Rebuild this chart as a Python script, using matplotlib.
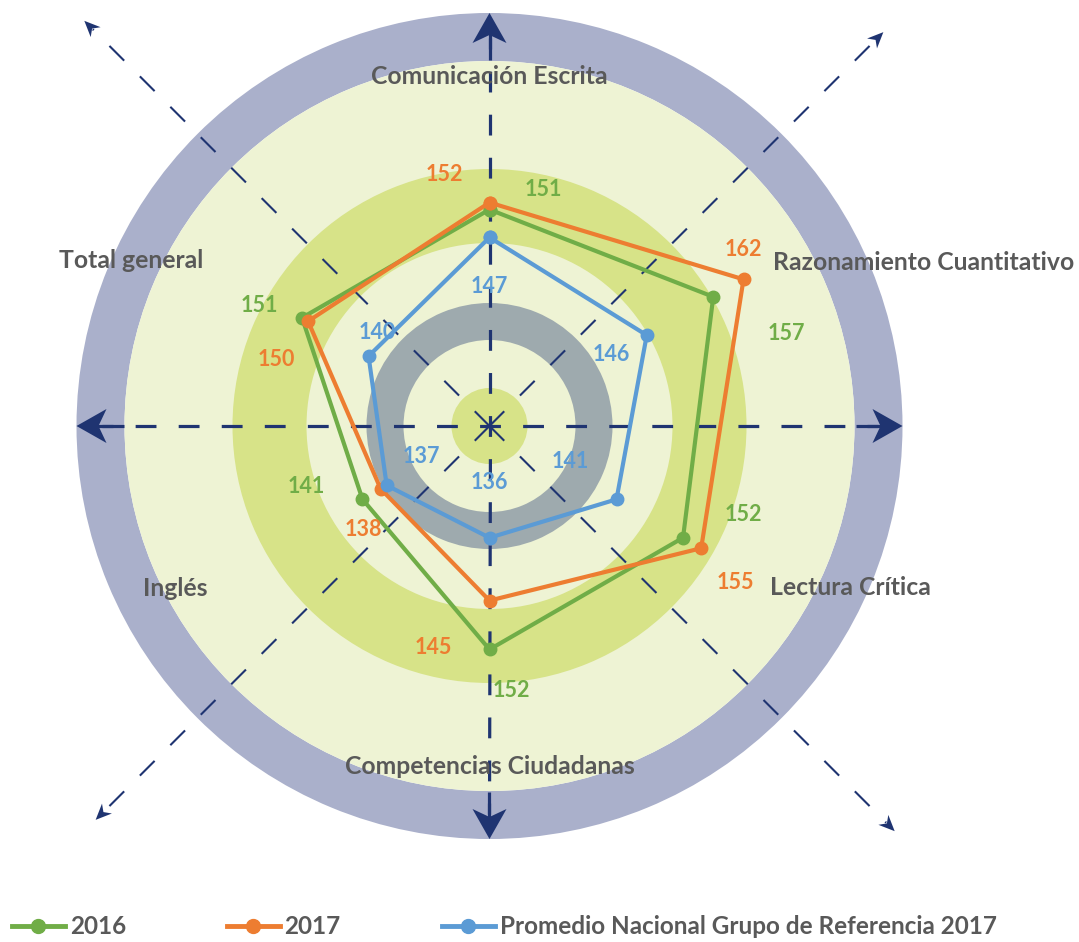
"""
Radar chart: Saber Pro results 2016 / 2017 vs national reference group.
"""
import numpy as np
import matplotlib
matplotlib.use("Agg")
import matplotlib.pyplot as plt
from matplotlib.patches import Circle, Wedge, Polygon
from matplotlib.lines import Line2D

plt.rcParams['font.family'] = ['Lato', 'DejaVu Sans']
plt.rcParams['lines.scale_dashes'] = False

# ---- data ----
categories = ['Comunicación Escrita', 'Razonamiento Cuantitativo', 'Lectura Crítica',
              'Competencias Ciudadanas', 'Inglés', 'Total general']
vals_2016 = [151, 157, 152, 152, 141, 151]
vals_2017 = [152, 162, 155, 145, 138, 150]
vals_ref = [147, 146, 141, 136, 137, 140]
series_names = ['2016', '2017', 'Promedio Nacional Grupo de Referencia 2017']

r_min, r_max = 120, 180

# ---- style ----
GREEN = '#70ad47'
ORANGE = '#ed7d31'
BLUE = '#5b9bd5'
NAVY = '#1f3471'
TXT = '#595959'

W, H = 1079, 942
cx, cy = 489.5, 426
R = 419  # pixel radius of the radar (r_max)

fig = plt.figure(figsize=(W / 100, H / 100), dpi=100)

# background decoration in pixel coordinates
bg = fig.add_axes([0, 0, 1, 1])
bg.set_xlim(0, W)
bg.set_ylim(H, 0)
bg.axis('off')

bg.add_patch(Wedge((cx, cy), 413, 0, 360, width=48, color='#aab0cb', lw=0))
bg.add_patch(Circle((cx, cy), 365, color='#eef3d4', lw=0))
bg.add_patch(Wedge((cx, cy), 257, 0, 360, width=74, color='#d7e388', lw=0))
bg.add_patch(Wedge((cx, cy), 123, 0, 360, width=37, color='#9eaaae', lw=0))
bg.add_patch(Circle((cx, cy), 38, color='#d7e388', lw=0))


def stealth_head(ax, tip, direction, length, half_w, notch):
    d = np.array(direction, float)
    d /= np.hypot(*d)
    n = np.array([-d[1], d[0]])
    t = np.array(tip, float)
    pts = [t, t - length * d + half_w * n, t - notch * d, t - length * d - half_w * n]
    ax.add_patch(Polygon(pts, closed=True, color=NAVY, lw=0, zorder=3))


# main cross axes
for ang in [0, 90, 180, 270]:
    d = np.array([np.cos(np.radians(ang)), -np.sin(np.radians(ang))])
    end = np.array([cx, cy]) + 388 * d
    bg.plot([cx, end[0]], [cy, end[1]], color=NAVY, lw=2.3,
            linestyle=(7.5, (15, 16)), solid_capstyle='butt', zorder=2)
    stem0 = np.array([cx, cy]) + 366 * d
    tip = np.array([cx, cy]) + 413 * d
    bg.plot([stem0[0], tip[0] - 20 * d[0]], [stem0[1], tip[1] - 20 * d[1]],
            color=NAVY, lw=2.3, solid_capstyle='butt', zorder=2)
    stealth_head(bg, tip, d, 30, 17, 22)

# diagonal decorative axes
for ang, length in [(45, 557), (135, 573), (225, 557), (315, 573)]:
    d = np.array([np.cos(np.radians(ang)), -np.sin(np.radians(ang))])
    tip = np.array([cx, cy]) + length * d
    end = tip - 12 * d
    bg.plot([cx, end[0]], [cy, end[1]], color=NAVY, lw=1.5,
            linestyle=(0, (15, 16)), solid_capstyle='butt', zorder=2)
    stealth_head(bg, tip, d, 16, 7, 11)

# ---- radar in polar axes ----
ax = fig.add_axes([(cx - R) / W, (H - cy - R) / H, 2 * R / W, 2 * R / H],
                  projection='polar')
ax.patch.set_alpha(0)
ax.set_theta_zero_location('N')
ax.set_theta_direction(-1)
ax.set_ylim(r_min, r_max)
ax.grid(False)
ax.spines['polar'].set_visible(False)
ax.set_xticks([])
ax.set_yticks([])

theta = np.linspace(0, 2 * np.pi, len(categories), endpoint=False)
theta_c = np.append(theta, theta[0])

series = [(vals_2016, GREEN), (vals_2017, ORANGE), (vals_ref, BLUE)]
for vals, col in series:
    v = np.append(vals, vals[0])
    ax.plot(theta_c, v, color=col, lw=3, marker='o', markersize=9,
            clip_on=False, zorder=4)

# value label offsets (pixels, x right / y down) per category
offsets = {
    GREEN: [(54, -20), (73, 37), (60, -23), (22, 41), (-56, -13), (-43, -12)],
    ORANGE: [(-45, -28), (0, -30), (34, 34), (-56, 47), (-17, 41), (-32, 38)],
    BLUE: [(0, 49), (-35, 19), (-46, -38), (0, -55), (35, -29), (9, -24)],
}
for vals, col in series:
    for t, v, (ox, oy) in zip(theta, vals, offsets[col]):
        ax.annotate(str(v), (t, v), xytext=(ox, -oy), textcoords='offset pixels',
                    ha='center', va='center', color=col, fontsize=15.5,
                    fontweight='bold', zorder=5, annotation_clip=False)

# category labels
label_pos = [(170.1, 'center'), (166.9, 'left'), (166.3, 'left'),
             (168.7, 'center'), (166.6, 'right'), (167.4, 'right')]
for t, name, (rr, ha) in zip(theta, categories, label_pos):
    ax.text(t, rr, name, ha=ha, va='center', color=TXT, fontsize=17.8,
            fontweight='bold', zorder=5, clip_on=False)

# legend
handles = [Line2D([], [], color=c, lw=3.5, marker='o', markersize=10)
           for c in [GREEN, ORANGE, BLUE]]
leg = fig.legend(handles, series_names, loc='lower left', bbox_to_anchor=(0.011, 0.004),
                 ncol=3, frameon=False, fontsize=17.5, handlelength=2.18,
                 handletextpad=0.2, columnspacing=4.15, borderpad=0, borderaxespad=0)
for txt in leg.get_texts():
    txt.set_color(TXT)
    txt.set_fontweight('bold')

fig.savefig('out.png', dpi=100)
